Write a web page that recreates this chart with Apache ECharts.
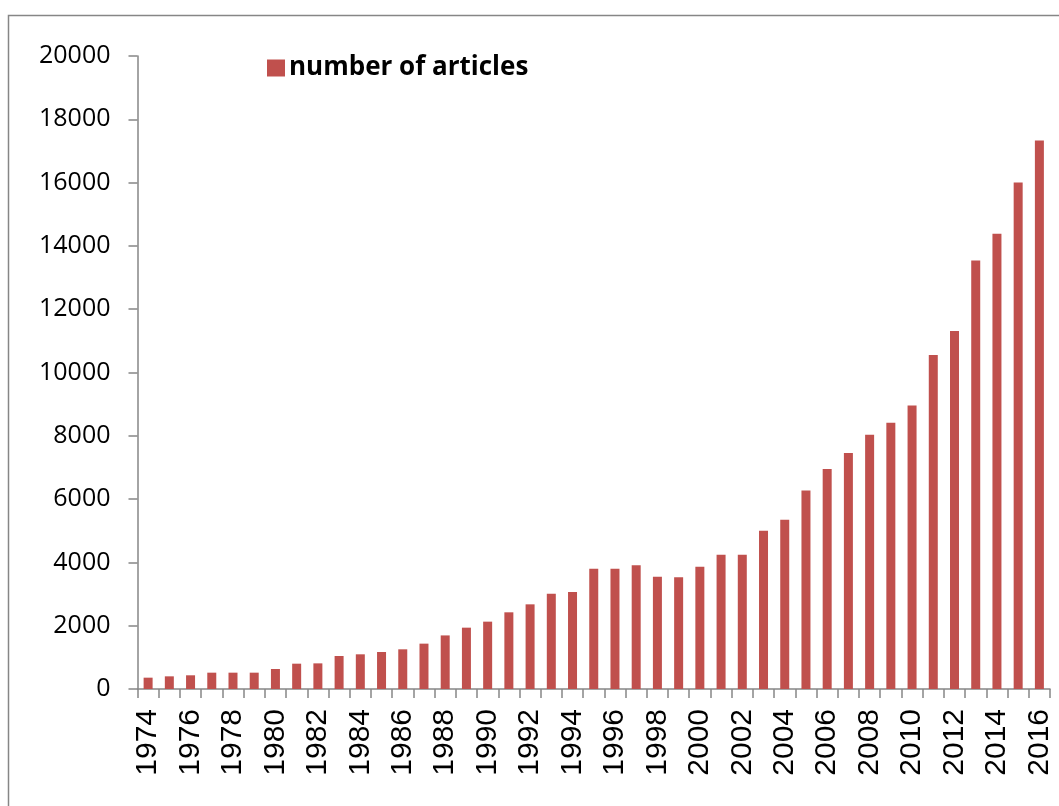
<!DOCTYPE html>
<html>
<head>
<meta charset="utf-8">
<script src="https://cdn.jsdelivr.net/npm/echarts@6/dist/echarts.min.js"></script>
<style>html,body{margin:0;padding:0;background:#fff;}#c{width:1059px;height:806px;}</style>
</head>
<body>
<div id="c"></div>
<script>
var years = ['1974','1975','1976','1977','1978','1979','1980','1981','1982','1983','1984','1985','1986','1987','1988','1989','1990','1991','1992','1993','1994','1995','1996','1997','1998','1999','2000','2001','2002','2003','2004','2005','2006','2007','2008','2009','2010','2011','2012','2013','2014','2015','2016'];
var articles = [358,400,433,516,516,516,632,800,810,1043,1096,1170,1254,1433,1693,1938,2128,2423,2675,3012,3065,3802,3802,3908,3549,3528,3865,4244,4244,5000,5345,6270,6951,7455,8032,8410,8955,10555,11315,13540,14380,16005,17330];
var seriesName = 'number of articles';
var yMin = 0, yMax = 20000, yStep = 2000;

var chart = echarts.init(document.getElementById('c'), null, {renderer: 'canvas'});
var font = '"Open Sans", "Liberation Sans", sans-serif';
var xfont = '"Liberation Sans", sans-serif';
chart.setOption({
  animation: false,
  backgroundColor: '#fff',
  graphic: [{
    type: 'rect', silent: true,
    shape: {x: 8.5, y: 15.5, width: 1100, height: 900},
    style: {fill: 'none', stroke: '#868686', lineWidth: 1.5}
  }],
  legend: {
    left: 262, top: 50,
    itemWidth: 18, itemHeight: 17, itemGap: 10,
    icon: 'rect',
    textStyle: {fontFamily: font, fontSize: 26, fontWeight: 'bold', color: '#000', padding: [0,0,0,-1]},
    data: [seriesName]
  },
  grid: {left: 137.5, right: 9, top: 56, bottom: 117, containLabel: false},
  xAxis: {
    type: 'category',
    data: years,
    boundaryGap: true,
    axisLine: {lineStyle: {color: '#868686', width: 1.5}},
    axisTick: {show: true, interval: 0, length: 9, lineStyle: {color: '#868686', width: 1.5}},
    axisLabel: {interval: 1, rotate: 90, margin: 20, fontFamily: xfont, fontSize: 30, color: '#000', hideOverlap: false},
    splitLine: {show: false}
  },
  yAxis: {
    type: 'value',
    min: yMin, max: yMax, interval: yStep,
    axisLine: {show: true, lineStyle: {color: '#868686', width: 1.5}},
    axisTick: {show: true, length: 9, lineStyle: {color: '#868686', width: 1.5}},
    axisLabel: {margin: 27, fontFamily: font, fontSize: 25, color: '#000', formatter: function (v) { return String(v); }},
    splitLine: {show: false}
  },
  series: [{
    name: seriesName,
    type: 'bar',
    data: articles,
    barWidth: 9,
    itemStyle: {color: '#C0504D'}
  }]
});
</script>
</body>
</html>
